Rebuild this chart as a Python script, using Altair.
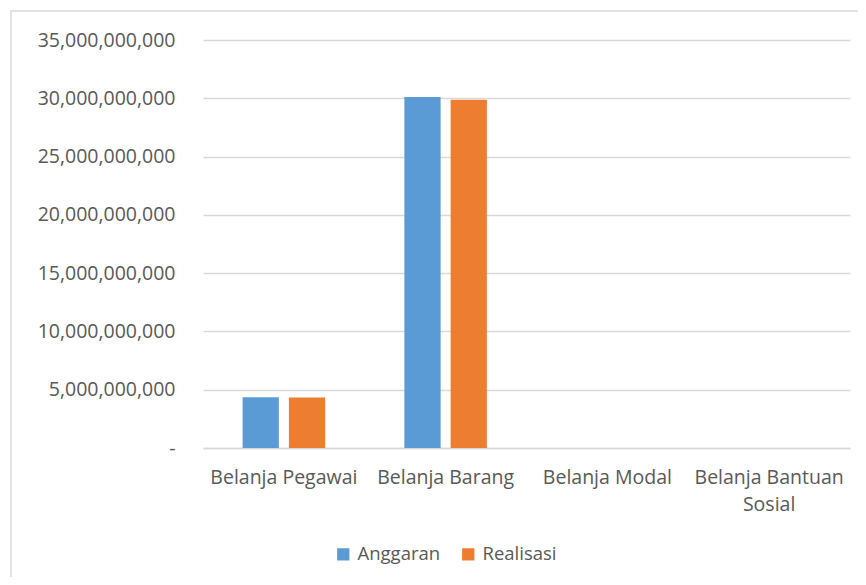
import altair as alt
import pandas as pd

categories = ["Belanja Pegawai", "Belanja Barang", "Belanja Modal", "Belanja Bantuan Sosial"]
series = ["Anggaran", "Realisasi"]
anggaran = [4350000000, 30100000000, 0, 0]
realisasi = [4330000000, 29880000000, 0, 0]
y_ticks = [0, 5e9, 10e9, 15e9, 20e9, 25e9, 30e9, 35e9]
colors = ["#5B9BD5", "#ED7D31"]

rows = []
for c, a, r in zip(categories, anggaran, realisasi):
    rows.append({"kategori": c, "seri": "Anggaran", "nilai": a})
    rows.append({"kategori": c, "seri": "Realisasi", "nilai": r})
df = pd.DataFrame(rows)

FONT = "Open Sans"
TXT = "#595959"
GRID = "#D9D9D9"

bars = alt.Chart(df).mark_bar().encode(
    x=alt.X("kategori:N", sort=categories, title=None,
            scale=alt.Scale(paddingInner=0.49, paddingOuter=0.245),
            axis=alt.Axis(labelAngle=0, ticks=False, domain=True, domainColor=GRID,
                          domainWidth=1.5, labelPadding=20, labelFont=FONT,
                          labelFontSize=19.5, labelColor=TXT, labelLineHeight=27,
                          labelLimit=300,
                          labelExpr="datum.label == 'Belanja Bantuan Sosial' ? ['Belanja Bantuan', 'Sosial'] : datum.label")),
    xOffset=alt.XOffset("seri:N", sort=series, scale=alt.Scale(paddingInner=0.217, paddingOuter=0)),
    y=alt.Y("nilai:Q", title=None,
            scale=alt.Scale(domain=[0, 35e9], nice=False),
            axis=alt.Axis(values=y_ticks, ticks=False, domain=False, gridColor=GRID,
                          gridWidth=1.5, labelPadding=28, labelFont=FONT,
                          labelFontSize=19.5, labelColor=TXT,
                          labelExpr="datum.value == 0 ? '-' : format(datum.value, ',')")),
    color=alt.Color("seri:N", sort=series, title=None,
                    scale=alt.Scale(domain=series, range=colors),
                    legend=alt.Legend(orient="none", legendX=131, legendY=505,
                                      direction="horizontal", symbolType="square",
                                      symbolSize=150, symbolStrokeWidth=0,
                                      labelFont=FONT, labelFontSize=18.5, labelColor=TXT,
                                      columnPadding=18, labelOffset=5)),
)

border = alt.Chart(pd.DataFrame({"a": [0]})).mark_rect(
    fill=None, stroke=GRID, strokeWidth=1.5
).encode(x=alt.value(-192), x2=alt.value(700), y=alt.value(-29), y2=alt.value(600))

chart = alt.layer(border, bars).properties(
    width=647, height=408,
    autosize=alt.AutoSizeParams(type="none"),
    padding={"left": 195, "top": 32, "right": 8, "bottom": 129},
).configure_view(stroke=None)

chart.save("out.html", embed_options={"renderer": "svg", "actions": False})
